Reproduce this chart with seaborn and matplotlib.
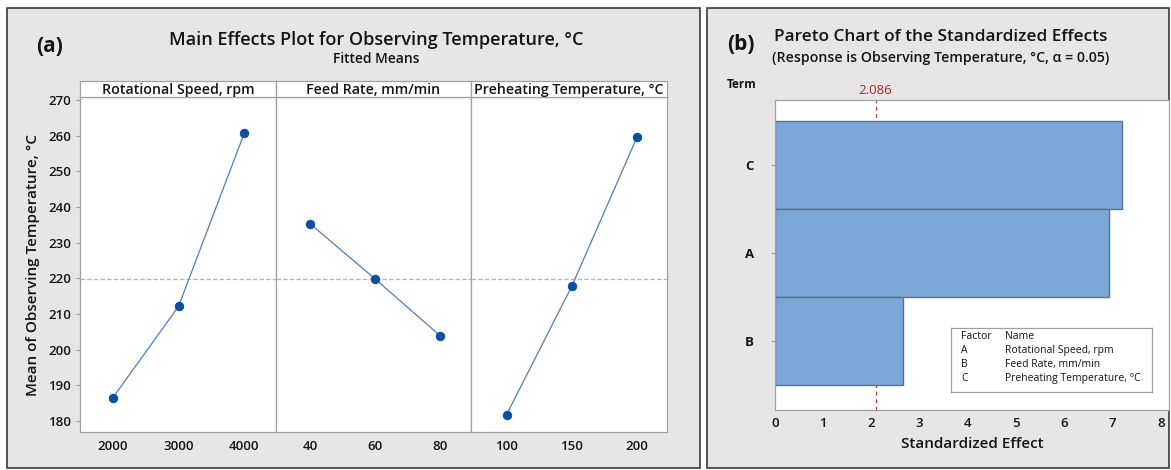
import matplotlib.pyplot as plt
from matplotlib.patches import Rectangle
import seaborn as sns
import pandas as pd

# main effects data (fitted means)
factors = ['Rotational Speed, rpm', 'Feed Rate, mm/min', 'Preheating Temperature, °C']
levels = [[2000, 3000, 4000], [40, 60, 80], [100, 150, 200]]
means = [[186.5, 212.1, 260.6], [235.3, 219.8, 203.8], [181.8, 217.8, 259.6]]
xlims = [(1500, 4480), (29.5, 89.5), (73, 223)]
grand_mean = 219.8

# pareto data
terms = ['C', 'A', 'B']
effects = [7.2, 6.92, 2.66]
t_crit = 2.086
factor_codes = ['A', 'B', 'C']

sns.set_style('white')
plt.rcParams['font.family'] = ['Open Sans', 'DejaVu Sans']
plt.rcParams['text.color'] = '#141414'
plt.rcParams['axes.labelcolor'] = '#141414'
plt.rcParams['xtick.color'] = '#141414'
plt.rcParams['ytick.color'] = '#141414'

W, H = 1171, 470
fig = plt.figure(figsize=(W / 100, H / 100), dpi=100)
fig.patch.set_facecolor('white')


def fx(px):
    return px / W


def fy(py):
    return 1 - py / H


# panel backgrounds
for x0, x1 in [(7, 700), (707, 1169)]:
    fig.patches.append(Rectangle((fx(x0), fy(468)), fx(x1 - x0), (468 - 8) / H,
                                 transform=fig.transFigure, facecolor='#e6e6e6',
                                 edgecolor='#3a3a3a', linewidth=1.2, zorder=-10))

# ---------------- (a) main effects plot ----------------
left, top, bottom, fw = 80, 97, 432, 195.7
ylim = (176.9, 270.8)
for i, (name, lv, mv, xl) in enumerate(zip(factors, levels, means, xlims)):
    ax = fig.add_axes([fx(left + i * fw), fy(bottom), fx(fw), (bottom - top) / H])
    df = pd.DataFrame({'x': lv, 'y': mv})
    sns.lineplot(data=df, x='x', y='y', ax=ax, color='#4a7fc4', linewidth=0.9,
                 marker='o', markersize=6, markerfacecolor='#0b4fa0',
                 markeredgecolor='#0b4fa0')
    ax.axhline(grand_mean, color='#b4b4b4', linestyle='--', linewidth=0.9, zorder=0)
    ax.set_xlim(*xl)
    ax.set_ylim(*ylim)
    ax.set_xticks(lv)
    ax.set_xticklabels([str(v) for v in lv], fontsize=9.5, fontweight='semibold')
    ax.set_xlabel('')
    ax.set_ylabel('')
    ax.tick_params(axis='x', length=0, pad=6)
    for s in ax.spines.values():
        s.set_color('#a0a0a0')
        s.set_linewidth(0.9)
    if i == 0:
        ax.set_yticks(range(180, 271, 10))
        ax.tick_params(axis='y', labelsize=9.5, length=3, color='#a0a0a0', left=True)
        for lab in ax.get_yticklabels():
            lab.set_fontweight('semibold')
        ax.set_ylabel('Mean of Observing Temperature, °C', fontsize=11,
                      fontweight='semibold', labelpad=6)
    else:
        ax.set_yticks([])
    # strip header
    sax = fig.add_axes([fx(left + i * fw), fy(top), fx(fw), 16 / H])
    sax.set_xticks([])
    sax.set_yticks([])
    sax.set_facecolor('white')
    for s in sax.spines.values():
        s.set_color('#a0a0a0')
        s.set_linewidth(0.9)
    sax.text(0.5, 0.45, name, ha='center', va='center', fontsize=10.2,
             fontweight='semibold', transform=sax.transAxes)

fig.text(fx(50), fy(47), '(a)', fontsize=15, fontweight='bold', ha='center', va='center')
fig.text(fx(376), fy(40), 'Main Effects Plot for Observing Temperature, °C',
         fontsize=13, fontweight='semibold', ha='center', va='center')
fig.text(fx(376), fy(59), 'Fitted Means', fontsize=10, fontweight='semibold',
         ha='center', va='center')

# ---------------- (b) pareto chart ----------------
pax = fig.add_axes([fx(775), fy(410), fx(394), (410 - 100) / H])
pdf = pd.DataFrame({'term': terms, 'effect': effects})
sns.barplot(data=pdf, x='effect', y='term', orient='h', ax=pax, width=1.0,
            color='#7ba7d9', saturation=1, edgecolor='#5f7088', linewidth=1.0)
pax.axvline(t_crit, color='#c0392b', linestyle=(0, (3, 3)), linewidth=0.9, zorder=0)
pax.set_xlim(0, 8.17)
pax.set_ylim(2.78, -0.74)
pax.set_xticks(range(0, 9))
pax.tick_params(axis='x', labelsize=9.5, length=0, pad=5)
pax.tick_params(axis='y', labelsize=9.5, length=3, color='#a0a0a0', left=True, pad=12)
for lab in pax.get_xticklabels():
    lab.set_fontweight('semibold')
for lab in pax.get_yticklabels():
    lab.set_fontweight('bold')
pax.set_ylabel('')
pax.set_xlabel('Standardized Effect', fontsize=11, fontweight='semibold', labelpad=5)
for s in pax.spines.values():
    s.set_color('#a0a0a0')
    s.set_linewidth(0.9)
pax.text(t_crit, 1.01, f'{t_crit:.3f}', color='#a02828', fontsize=9.5, ha='center',
         va='bottom', transform=pax.get_xaxis_transform())

# factor legend table
lax = fig.add_axes([fx(951), fy(392), fx(201), (392 - 328) / H])
lax.set_xticks([])
lax.set_yticks([])
lax.set_facecolor('white')
for s in lax.spines.values():
    s.set_color('#a0a0a0')
    s.set_linewidth(0.9)
rows = [('Factor', 'Name')] + list(zip(factor_codes, factors))
for k, (c, n) in enumerate(rows):
    yy = 0.86 - k * 0.215
    lax.text(0.05, yy, c, fontsize=7.5, va='center', transform=lax.transAxes)
    lax.text(0.27, yy, n, fontsize=7.5, va='center', transform=lax.transAxes)

fig.text(fx(741), fy(44), '(b)', fontsize=15, fontweight='bold', ha='center', va='center')
fig.text(fx(941), fy(37), 'Pareto Chart of the Standardized Effects',
         fontsize=12.4, fontweight='semibold', ha='center', va='center')
fig.text(fx(941), fy(58), '(Response is Observing Temperature, °C, α = 0.05)',
         fontsize=10.2, fontweight='semibold', ha='center', va='center')
fig.text(fx(742), fy(85), 'Term', fontsize=8.5, fontweight='bold', ha='center', va='center')

fig.savefig('out.png', dpi=100)
